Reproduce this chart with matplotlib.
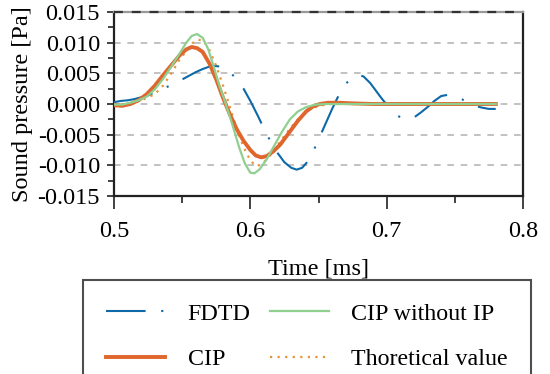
import matplotlib
matplotlib.use("Agg")
import matplotlib.pyplot as plt
from matplotlib.ticker import MultipleLocator, FormatStrFormatter

plt.rcParams['font.family'] = ['Liberation Serif', 'DejaVu Serif']
plt.rcParams['mathtext.fontset'] = 'stix'

# ---------------- data ----------------
t_fdtd = [0.500, 0.505, 0.510, 0.515, 0.520, 0.525, 0.530, 0.535, 0.540, 0.545,
          0.550, 0.555, 0.560, 0.565, 0.570, 0.574, 0.578, 0.582, 0.586, 0.590,
          0.595, 0.600, 0.605, 0.610, 0.615, 0.620, 0.625, 0.630, 0.634, 0.638,
          0.642, 0.646, 0.650, 0.655, 0.660, 0.665, 0.670, 0.675, 0.679, 0.683,
          0.688, 0.692, 0.696, 0.700, 0.705, 0.710, 0.715, 0.720, 0.725, 0.730,
          0.735, 0.740, 0.745, 0.750, 0.755, 0.760, 0.765, 0.770, 0.775, 0.780]
p_fdtd = [0.0003, 0.0005, 0.0006, 0.0008, 0.0011, 0.0014, 0.0019, 0.0024, 0.0029, 0.0034,
          0.0040, 0.0046, 0.0052, 0.0057, 0.0061, 0.0062, 0.0061, 0.0057, 0.0050, 0.0040,
          0.0025, 0.0005, -0.0017, -0.0040, -0.0062, -0.0080, -0.0095, -0.0104, -0.0107, -0.0104,
          -0.0094, -0.0078, -0.0058, -0.0033, -0.0008, 0.0015, 0.0033, 0.0044, 0.0047, 0.0045,
          0.0034, 0.0022, 0.0010, -0.0001, -0.0013, -0.0022, -0.0025, -0.0022, -0.0014, -0.0005,
          0.0005, 0.0013, 0.0015, 0.0013, 0.0008, 0.0002, -0.0003, -0.0006, -0.0008, -0.0008]

t_cip = [0.500, 0.506, 0.512, 0.518, 0.524, 0.530, 0.536, 0.542, 0.548, 0.553,
         0.557, 0.561, 0.565, 0.570, 0.575, 0.580, 0.585, 0.590, 0.595, 0.600,
         0.604, 0.608, 0.612, 0.617, 0.622, 0.629, 0.635, 0.641, 0.646, 0.651,
         0.657, 0.665, 0.675, 0.690, 0.780]
p_cip = [-0.0002, -0.0003, 0.0000, 0.0006, 0.0016, 0.0030, 0.0047, 0.0063, 0.0079, 0.0089,
         0.0093, 0.0091, 0.0085, 0.0066, 0.0040, 0.0010, -0.0017, -0.0041, -0.0060, -0.0075,
         -0.0084, -0.0087, -0.0085, -0.0077, -0.0066, -0.0045, -0.0027, -0.0012, -0.0004, 0.0000,
         0.0002, 0.0002, 0.0001, 0.0000, 0.0000]

t_noip = [0.500, 0.506, 0.512, 0.518, 0.524, 0.530, 0.536, 0.542, 0.548, 0.553,
          0.557, 0.561, 0.565, 0.569, 0.573, 0.577, 0.582, 0.587, 0.592, 0.596,
          0.600, 0.603, 0.607, 0.612, 0.617, 0.623, 0.629, 0.635, 0.641, 0.648,
          0.655, 0.780]
p_noip = [-0.0001, -0.0001, 0.0002, 0.0006, 0.0012, 0.0024, 0.0041, 0.0061, 0.0082, 0.0100,
          0.0111, 0.0114, 0.0108, 0.0090, 0.0062, 0.0032, 0.0000, -0.0035, -0.0072, -0.0097,
          -0.0112, -0.0113, -0.0106, -0.0090, -0.0070, -0.0046, -0.0025, -0.0012, -0.0005, -0.0001,
          0.0000, 0.0000]

t_theo = [0.500, 0.510, 0.520, 0.530, 0.536, 0.542, 0.548, 0.553, 0.558, 0.562,
          0.566, 0.570, 0.575, 0.580, 0.585, 0.590, 0.595, 0.600, 0.604, 0.608,
          0.613, 0.619, 0.625, 0.631, 0.637, 0.643, 0.650, 0.658, 0.670, 0.780]
p_theo = [0.0000, 0.0000, 0.0006, 0.0016, 0.0030, 0.0050, 0.0072, 0.0086, 0.0100, 0.0105,
          0.0102, 0.0088, 0.0062, 0.0030, -0.0005, -0.0040, -0.0070, -0.0092, -0.0101, -0.0099,
          -0.0088, -0.0070, -0.0052, -0.0035, -0.0020, -0.0009, -0.0003, 0.0000, 0.0000, 0.0000]

labels = ['FDTD', 'CIP', 'CIP without IP', 'Thoretical value']

# ---------------- figure ----------------
fig = plt.figure(figsize=(5.5, 3.74), dpi=100)
ax = fig.add_axes([114 / 550, 1 - 196 / 374, 409 / 550, 184 / 374])

blue = '#0d69a8'
orange = '#e0662e'
green = '#8fd08f'
dotc = '#e8923a'

h_fdtd, = ax.plot(t_fdtd, p_fdtd, color=blue, lw=1.5, linestyle=(0, (19, 7.5, 1.0, 7.5)),
                  dash_capstyle='butt', zorder=3)
h_theo, = ax.plot(t_theo, p_theo, color=dotc, lw=1.6, linestyle=(0, (1, 2.4)), zorder=4)
h_cip, = ax.plot(t_cip, p_cip, color=orange, lw=2.8, zorder=5)
h_noip, = ax.plot(t_noip, p_noip, color=green, lw=1.6, zorder=6)

ax.set_xlim(0.5, 0.8)
ax.set_ylim(-0.015, 0.015)
ax.xaxis.set_major_locator(MultipleLocator(0.1))
ax.xaxis.set_minor_locator(MultipleLocator(0.05))
ax.yaxis.set_major_locator(MultipleLocator(0.005))
ax.yaxis.set_minor_locator(MultipleLocator(0.0025))
ax.xaxis.set_major_formatter(FormatStrFormatter('%.1f'))
ax.yaxis.set_major_formatter(FormatStrFormatter('%.3f'))

ax.yaxis.grid(True, which='major', color='#b8b8b8', linestyle=(0, (4, 4)), lw=1.2)
ax.set_axisbelow(True)

for s in ['left', 'right', 'bottom']:
    ax.spines[s].set_linewidth(1.6)
    ax.spines[s].set_color('#222222')
ax.spines['top'].set_color('#9a9a9a')
ax.spines['top'].set_linewidth(1.6)
ax.axhline(0.015, color='#333333', lw=1.6, linestyle=(0, (4, 4)), clip_on=False, zorder=7)

ax.tick_params(axis='x', which='major', direction='out', length=9, width=1.2,
               labelsize=17.5, pad=9, color='#222222')
ax.tick_params(axis='x', which='minor', direction='out', length=5, width=1.2, color='#222222')
ax.tick_params(axis='y', which='major', direction='out', length=5, width=1.2,
               labelsize=17.5, pad=5, color='#222222')
ax.tick_params(axis='y', which='minor', direction='out', length=4, width=1.2, color='#222222')

ax.set_xlabel('Time [ms]', fontsize=17.5, labelpad=12)
ax.set_ylabel('Sound pressure [Pa]', fontsize=17.5, labelpad=3)

leg = fig.legend([h_fdtd, h_cip, h_noip, h_theo], labels, ncol=2,
                 loc='upper left', bbox_to_anchor=(83 / 550, 1 - 280 / 374),
                 borderaxespad=0, fontsize=17.3, frameon=True, fancybox=False,
                 handlelength=2.45, handletextpad=0.95, columnspacing=0.8,
                 labelspacing=1.0, borderpad=0.95)
leg.get_frame().set_edgecolor('#222222')
leg.get_frame().set_linewidth(1.5)

fig.savefig('out.png', dpi=100)
